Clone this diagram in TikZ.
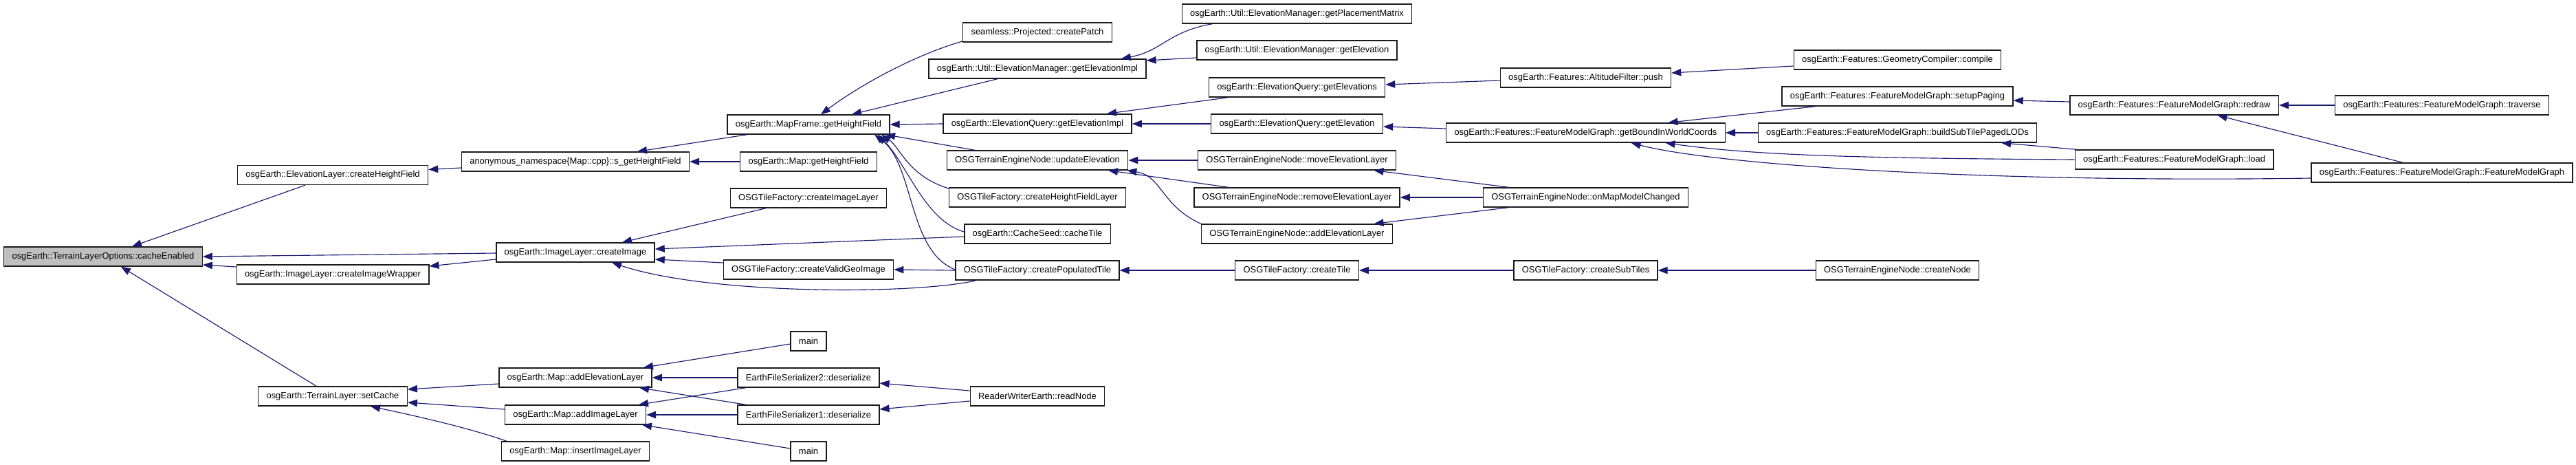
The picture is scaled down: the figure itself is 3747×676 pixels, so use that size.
\documentclass[tikz,border=0pt]{standalone}
\usepackage{fontspec}
\setmainfont{Liberation Sans}
\usepackage{tikz}
\usetikzlibrary{arrows.meta,calc}
\definecolor{dxedge}{HTML}{191970}
\definecolor{dxroot}{HTML}{BFBFBF}
\definecolor{dxline}{HTML}{1A1A1A}

\tikzset{
  func/.style={draw=dxline, line width=0.8pt, fill=white, minimum height=0.56cm,
    inner xsep=0.236cm, inner ysep=0pt, font=\fontsize{7.37}{8.8}\selectfont, text=black},
  funcroot/.style={func, fill=dxroot},
  calledge/.style={draw=dxedge, line width=0.65pt, -{Triangle[length=0.28cm,width=0.21cm]}}
}

\begin{document}
\begin{tikzpicture}[x=0.02cm,y=-0.02cm]
  \useasboundingbox (0,0) rectangle (3747,676);

  % Root
  \node[funcroot] (root) at (150,373) {osgEarth::TerrainLayerOptions::cacheEnabled};

  % Rank 1
  \node[func] (elevHF) at (484,254.5) {osgEarth::ElevationLayer::createHeightField};
  \node[func] (imgWrap) at (484,399) {osgEarth::ImageLayer::createImageWrapper};
  \node[func] (setCache) at (484,576) {osgEarth::TerrainLayer::setCache};

  % Rank 2
  \node[func] (sGetHF) at (837,235) {anonymous\_namespace\{Map::cpp\}::s\_getHeightField};
  \node[func] (createImg) at (837,367) {osgEarth::ImageLayer::createImage};
  \node[func] (mapAddElev) at (837,549) {osgEarth::Map::addElevationLayer};
  \node[func] (mapAddImg) at (837,603) {osgEarth::Map::addImageLayer};
  \node[func] (mapInsImg) at (837,656) {osgEarth::Map::insertImageLayer};

  % Rank 3
  \node[func] (frameGetHF) at (1176,181) {osgEarth::MapFrame::getHeightField};
  \node[func] (mapGetHF) at (1176,235) {osgEarth::Map::getHeightField};
  \node[func] (tileImgLayer) at (1176,288) {OSGTileFactory::createImageLayer};
  \node[func] (tileValidGeo) at (1176,392) {OSGTileFactory::createValidGeoImage};
  \node[func] (mainA) at (1176,496) {main};
  \node[func] (efsTwo) at (1176,549) {EarthFileSerializer2::deserialize};
  \node[func] (efsOne) at (1176,603) {EarthFileSerializer1::deserialize};
  \node[func] (mainB) at (1176,656) {main};

  % Rank 4
  \node[func] (seamPatch) at (1509,47) {seamless::Projected::createPatch};
  \node[func] (emElevImpl) at (1509,100) {osgEarth::Util::ElevationManager::getElevationImpl};
  \node[func] (eqElevImpl) at (1509,180) {osgEarth::ElevationQuery::getElevationImpl};
  \node[func] (tenUpdElev) at (1509,233) {OSGTerrainEngineNode::updateElevation};
  \node[func] (tileHFLayer) at (1509,287) {OSGTileFactory::createHeightFieldLayer};
  \node[func] (seedCache) at (1509,340) {osgEarth::CacheSeed::cacheTile};
  \node[func] (tilePop) at (1509,393) {OSGTileFactory::createPopulatedTile};
  \node[func] (rwReadNode) at (1509,576) {ReaderWriterEarth::readNode};

  % Rank 5
  \node[func] (emPlacement) at (1886.5,20) {osgEarth::Util::ElevationManager::getPlacementMatrix};
  \node[func] (emElev) at (1886.5,73) {osgEarth::Util::ElevationManager::getElevation};
  \node[func] (eqElevs) at (1886.5,127) {osgEarth::ElevationQuery::getElevations};
  \node[func] (eqElev) at (1886.5,180) {osgEarth::ElevationQuery::getElevation};
  \node[func] (tenMove) at (1886.5,233) {OSGTerrainEngineNode::moveElevationLayer};
  \node[func] (tenRemove) at (1886.5,287) {OSGTerrainEngineNode::removeElevationLayer};
  \node[func] (tenAdd) at (1886.5,340) {OSGTerrainEngineNode::addElevationLayer};
  \node[func] (tileCreate) at (1886.5,393) {OSGTileFactory::createTile};

  % Rank 6
  \node[func] (altPush) at (2306.5,113) {osgEarth::Features::AltitudeFilter::push};
  \node[func] (fmgBound) at (2306.5,193) {osgEarth::Features::FeatureModelGraph::getBoundInWorldCoords};
  \node[func] (tenMapChanged) at (2306.5,287) {OSGTerrainEngineNode::onMapModelChanged};
  \node[func] (tileSub) at (2306.5,393) {OSGTileFactory::createSubTiles};

  % Rank 7
  \node[func] (geoCompile) at (2760,87) {osgEarth::Features::GeometryCompiler::compile};
  \node[func] (fmgPaging) at (2760,140) {osgEarth::Features::FeatureModelGraph::setupPaging};
  \node[func] (fmgSubLODs) at (2760,193) {osgEarth::Features::FeatureModelGraph::buildSubTilePagedLODs};
  \node[func] (tenCreate) at (2760,393) {OSGTerrainEngineNode::createNode};

  % Rank 8 and 9
  \node[func] (fmgRedraw) at (3162.6,153) {osgEarth::Features::FeatureModelGraph::redraw};
  \node[func] (fmgLoad) at (3162.6,232) {osgEarth::Features::FeatureModelGraph::load};
  \node[func] (fmgTraverse) at (3552,153) {osgEarth::Features::FeatureModelGraph::traverse};
  \node[func] (fmgCtor) at (3552,251) {osgEarth::Features::FeatureModelGraph::FeatureModelGraph};

  % Calls into the root
  \draw[calledge] ($(elevHF.south)+(-40,0)$) -- ($(root.north)+(42,0)$);
  \draw[calledge] ($(createImg.west)+(0,1)$) -- (root.east);
  \draw[calledge] ($(imgWrap.west)+(0,-11)$) -- ($(root.east)+(0,12)$);
  \draw[calledge] ($(setCache.north)+(-24,0)$) -- ($(root.south)+(26,0)$);

  % Calls into rank 1
  \draw[calledge] ($(sGetHF.west)+(0,9)$) -- ($(elevHF.east)+(0,-8)$);
  \draw[calledge] ($(createImg.west)+(0,10)$) -- ($(imgWrap.east)+(0,-12)$);
  \draw[calledge] ($(mapAddElev.west)+(0,9)$) -- ($(setCache.east)+(0,-10)$);
  \draw[calledge] ($(mapAddImg.west)+(0,-8)$) -- ($(setCache.east)+(0,9)$);
  \draw[calledge] ($(mapInsImg.north)+(-100,0)$) .. controls +(-57,-20) and +(61,13) .. ($(setCache.south)+(55,0)$);

  % Calls into rank 2
  \draw[calledge] ($(frameGetHF.south)+(-89,0)$) -- ($(sGetHF.north)+(90,0)$);
  \draw[calledge] (mapGetHF.west) -- (sGetHF.east);
  \draw[calledge] ($(tileImgLayer.south)+(-62,0)$) -- ($(createImg.north)+(68,0)$);
  \draw[calledge] ($(seedCache.west)+(0,4)$) -- ($(createImg.east)+(0,-5)$);
  \draw[calledge] ($(tileValidGeo.west)+(0,-10)$) -- ($(createImg.east)+(0,10)$);
  \draw[calledge] ($(tilePop.south)+(-89,0)$) .. controls +(-90,21) and +(140,47) .. ($(createImg.south)+(53,0)$);
  \draw[calledge] ($(mainA.west)+(0,4)$) -- ($(mapAddElev.north)+(99,0)$);
  \draw[calledge] (efsTwo.west) -- (mapAddElev.east);
  \draw[calledge] ($(efsOne.north)+(-91,0)$) -- ($(mapAddElev.south)+(93,0)$);
  \draw[calledge] ($(efsTwo.south)+(-91,0)$) -- ($(mapAddImg.north)+(92,0)$);
  \draw[calledge] (efsOne.west) -- (mapAddImg.east);
  \draw[calledge] ($(mainB.west)+(0,-4)$) -- ($(mapAddImg.south)+(97,0)$);

  % Calls into rank 3
  \draw[calledge] ($(seamPatch.west)+(0,13)$) .. controls +(-70,20) and +(56,-42) .. ($(frameGetHF.north)+(18,0)$);
  \draw[calledge] ($(emElevImpl.south)+(-58,0)$) -- ($(frameGetHF.north)+(63,0)$);
  \draw[calledge] (eqElevImpl.west) -- (frameGetHF.east);
  \draw[calledge] ($(tenUpdElev.north)+(-91,0)$) -- ($(frameGetHF.south)+(112,0)$);
  \draw[calledge] ($(tileHFLayer.west)+(0,-13)$) .. controls +(-60,-19) and +(28,19) .. ($(frameGetHF.south)+(106,0)$);
  \draw[calledge] ($(seedCache.west)+(0,-3)$) .. controls +(-57,-17) and +(43,44) .. ($(frameGetHF.south)+(101,0)$);
  \draw[calledge] ($(tilePop.west)+(0,-1)$) .. controls +(-69,-27) and +(58,44) .. ($(frameGetHF.south)+(96,0)$);
  \draw[calledge] (tilePop.west) -- (tileValidGeo.east);
  \draw[calledge] ($(rwReadNode.west)+(0,-8)$) -- ($(efsTwo.east)+(0,8)$);
  \draw[calledge] ($(rwReadNode.west)+(0,7)$) -- ($(efsOne.east)+(0,-8)$);

  % Calls into rank 4
  \draw[calledge] ($(emPlacement.south)+(-123,0)$) .. controls +(-64,11) and +(59,-11) .. ($(emElevImpl.north)+(122,0)$);
  \draw[calledge] ($(emElev.west)+(0,11)$) -- ($(emElevImpl.east)+(0,-12)$);
  \draw[calledge] ($(eqElevs.south)+(-100,0)$) -- ($(eqElevImpl.north)+(101,0)$);
  \draw[calledge] (eqElev.west) -- (eqElevImpl.east);
  \draw[calledge] (tenMove.west) -- (tenUpdElev.east);
  \draw[calledge] ($(tenRemove.north)+(-100,0)$) -- ($(tenUpdElev.south)+(103,0)$);
  \draw[calledge] (tenAdd.north west) .. controls +(-58,-26) and +(51,8) .. ($(tenUpdElev.south east)+(-2,0)$);
  \draw[calledge] (tileCreate.west) -- (tilePop.east);

  % Calls into rank 5
  \draw[calledge] ($(altPush.west)+(0,4)$) -- ($(eqElevs.east)+(0,-4)$);
  \draw[calledge] ($(fmgBound.west)+(0,-6)$) -- ($(eqElev.east)+(0,4)$);
  \draw[calledge] ($(tenMapChanged.north)+(-112,0)$) -- ($(tenMove.south)+(112,0)$);
  \draw[calledge] (tenMapChanged.west) -- (tenRemove.east);
  \draw[calledge] ($(tenMapChanged.south)+(-112,0)$) -- ($(tenAdd.north)+(112,0)$);
  \draw[calledge] (tileSub.west) -- (tileCreate.east);

  % Calls into rank 6
  \draw[calledge] ($(geoCompile.west)+(0,9)$) -- ($(altPush.east)+(0,-7)$);
  \draw[calledge] ($(fmgPaging.south)+(-119,0)$) -- ($(fmgBound.north)+(120,0)$);
  \draw[calledge] (fmgSubLODs.west) -- (fmgBound.east);
  \draw[calledge] (fmgLoad.west) .. controls +(-319,-2) and +(128,18) .. ($(fmgBound.south)+(116,0)$);
  \draw[calledge] ($(fmgCtor.west)+(0,8)$) .. controls +(-463,7) and +(128,33) .. ($(fmgBound.south)+(66,0)$);
  \draw[calledge] (tenCreate.west) -- (tileSub.east);

  % Calls into rank 7
  \draw[calledge] ($(fmgRedraw.west)+(0,-5)$) -- ($(fmgPaging.east)+(0,6)$);
  \draw[calledge] ($(fmgLoad.north)+(-142,0)$) -- ($(fmgSubLODs.south)+(151,0)$);

  % Calls into rank 8
  \draw[calledge] (fmgTraverse.west) -- (fmgRedraw.east);
  \draw[calledge] ($(fmgCtor.north)+(-57,0)$) -- ($(fmgRedraw.south)+(63,0)$);
\end{tikzpicture}
\end{document}
